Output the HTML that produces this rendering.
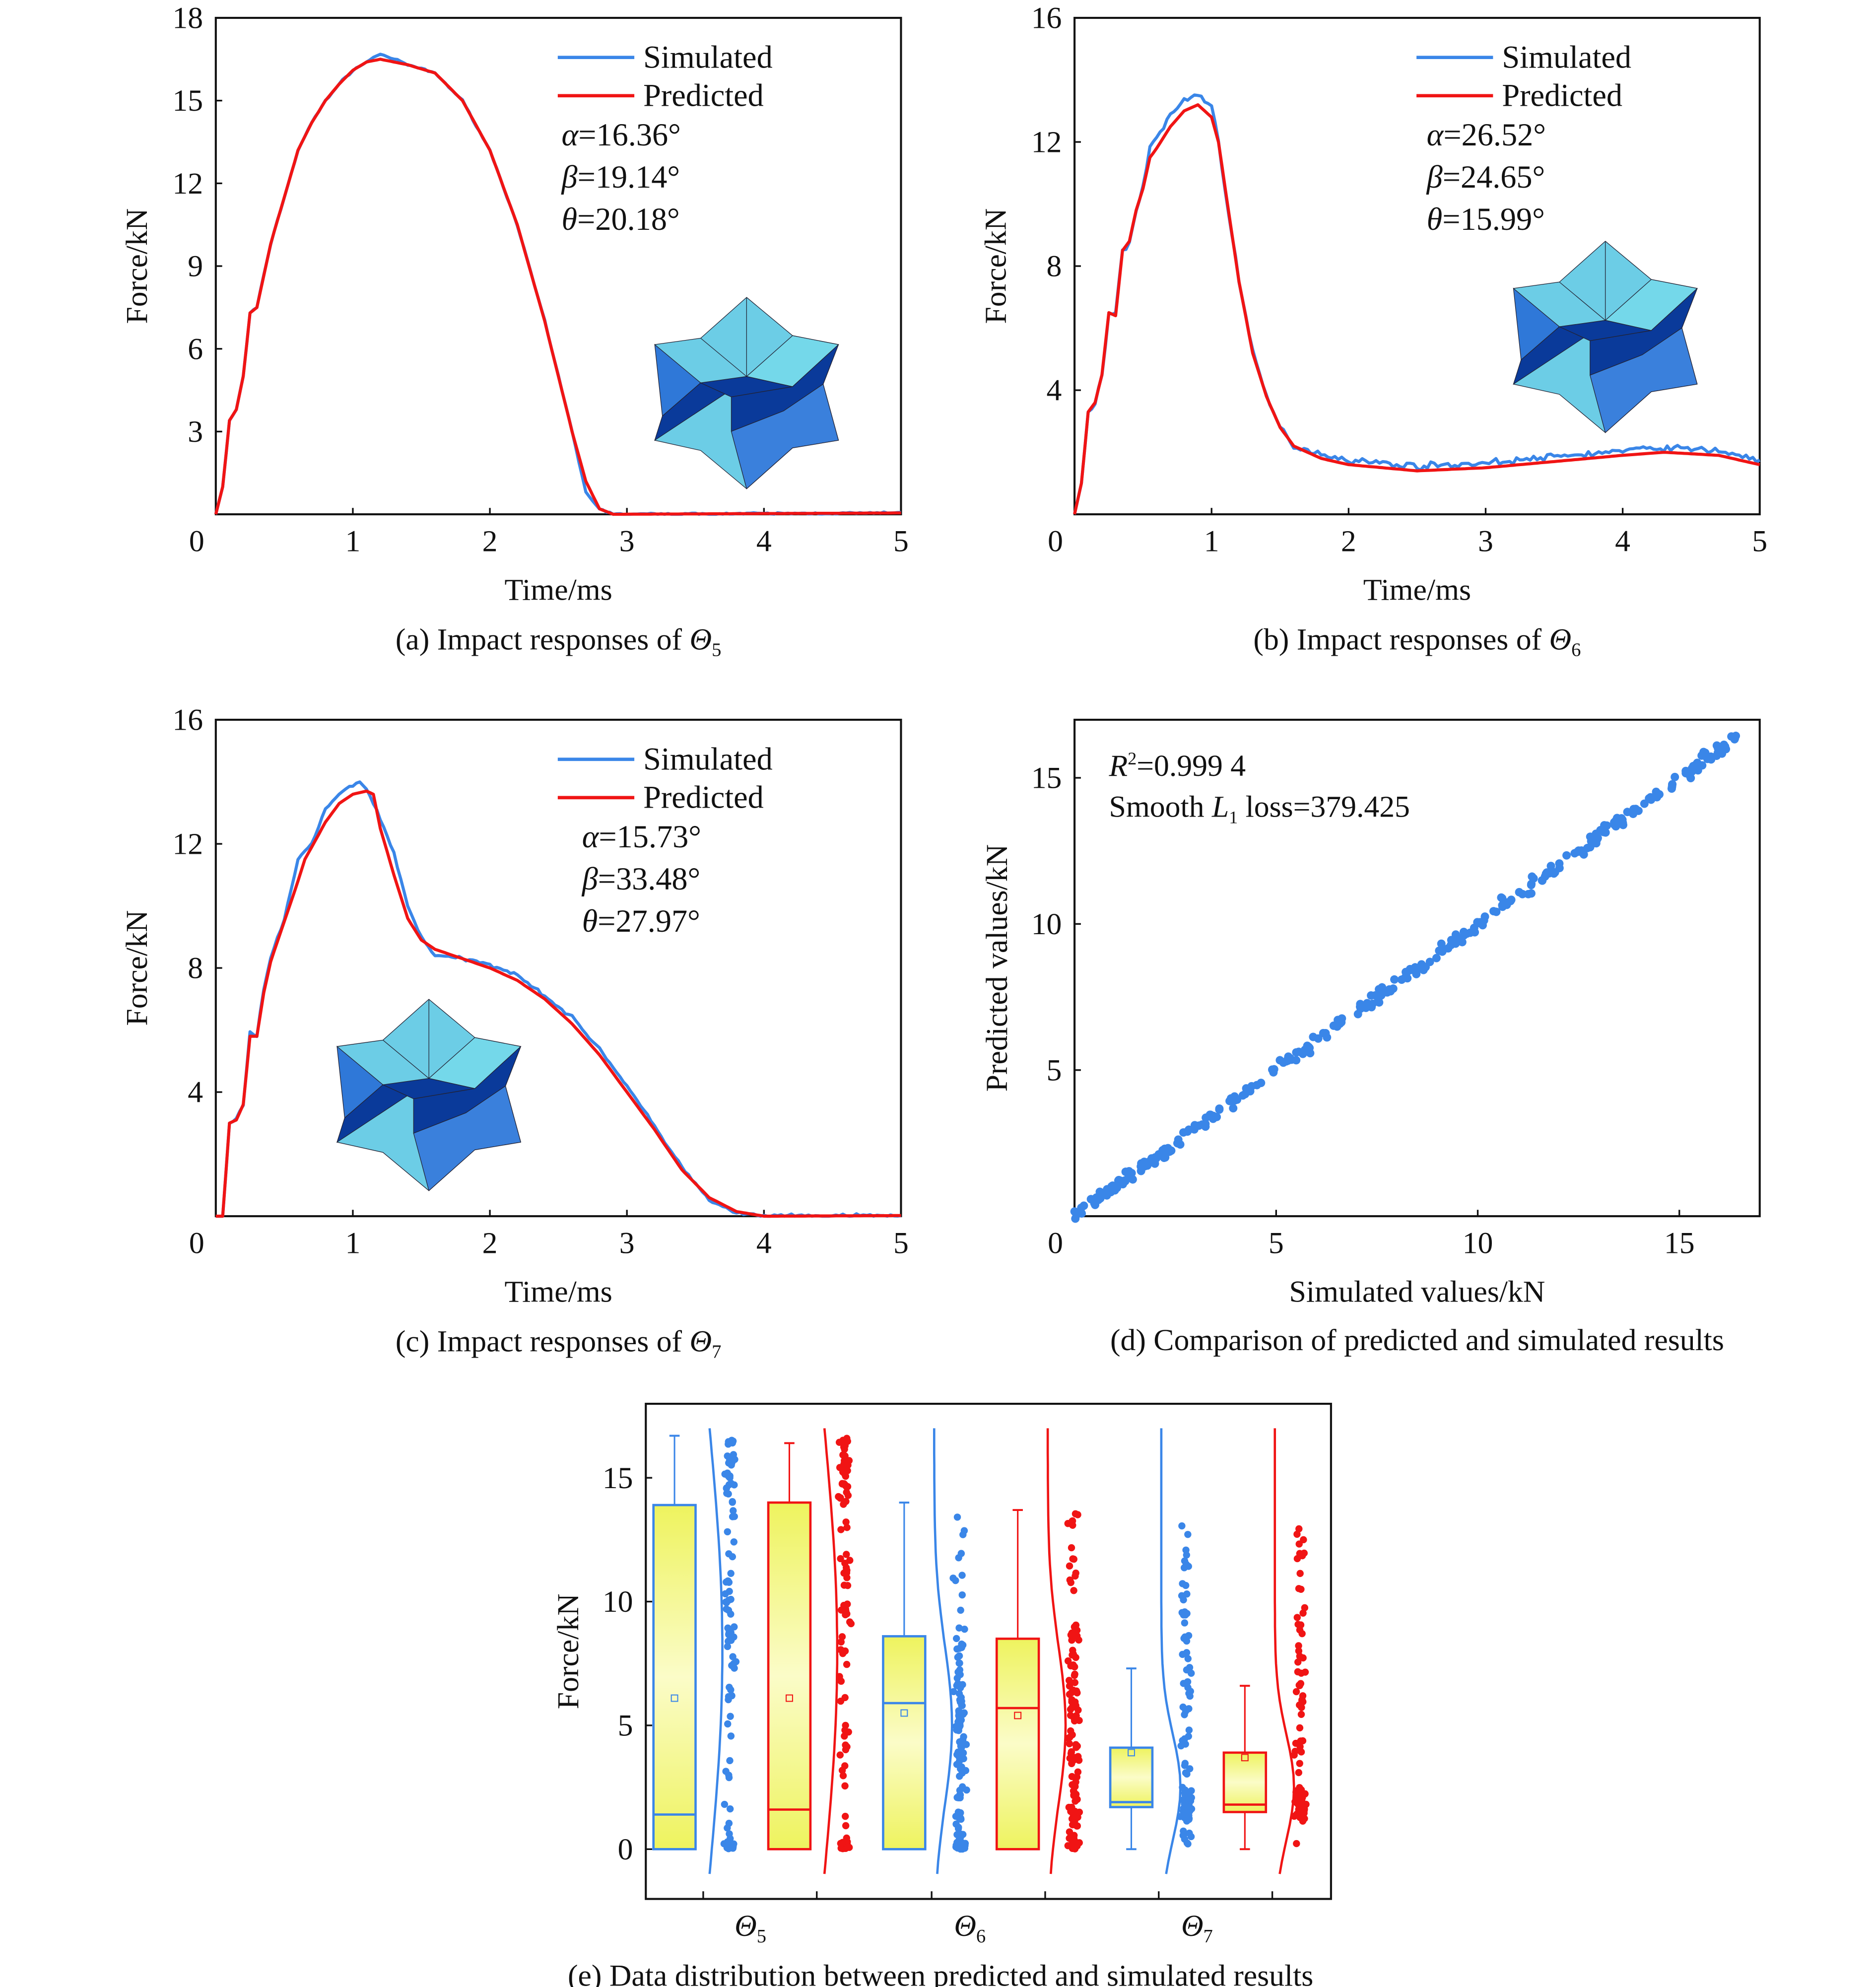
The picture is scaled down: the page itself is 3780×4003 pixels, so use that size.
<!DOCTYPE html>
<html><head><meta charset="utf-8"><style>
html,body{margin:0;padding:0;background:#fff}
svg{display:block}
text{font-family:"Liberation Serif",serif;fill:#111}
</style></head><body>
<svg id="s" width="3780" height="4003" viewBox="0 0 1470 1557" xmlns="http://www.w3.org/2000/svg">
<defs>
<linearGradient id="yg" x1="0" y1="0" x2="0" y2="1">
<stop offset="0" stop-color="#eef35e"/><stop offset="0.5" stop-color="#fbfcc8"/><stop offset="1" stop-color="#eef35e"/>
</linearGradient>
<g id="star" stroke="#223" stroke-width="0.5">
<polygon points="0,-75 36,-45 72,-38 60,-7 72,37 36,43 0,75 -36,45 -72,37 -59,6 -72,-38 -36,-43" fill="#6ccde6"/>
<polygon points="36,-45 72,-38 36,-5 0,-13" fill="#74d8ea"/>
<polygon points="-72,-38 -36,-8 -66,18" fill="#2f78d8"/>
<polygon points="-66,18 -36,-8 -10,-4 -72,37" fill="#0a3a9a"/>
<polygon points="-36,-8 0,-13 36,-5 -12,3" fill="#0a3a9a"/>
<polygon points="-12,3 36,-5 72,-38 60,-7 29,14 -12,30" fill="#0a3a9a"/>
<polygon points="-12,30 29,14 60,-7 72,37 36,43 0,75" fill="#3a80dc"/>
<line x1="0" y1="-75" x2="0" y2="-13"/>
<line x1="-36" y1="-43" x2="0" y2="-13"/>
</g>
</defs>
<g id="root" font-size="24"></g>
</svg>
<script>
var NS="http://www.w3.org/2000/svg",root=document.getElementById('root');
function el(t,a,p){var e=document.createElementNS(NS,t);for(var k in a)e.setAttribute(k,a[k]);(p||root).appendChild(e);return e;}
function tx(x,y,s,a){a=a||{};a.x=x;a.y=y;var e=el('text',a);e.innerHTML=s;return e;}
var seed=7;function rnd(){seed=(seed*16807)%2147483647;return seed/2147483647;}
function gauss(){return (rnd()+rnd()+rnd()-1.5)/1.5;}
function interp(d,t){for(var i=1;i<d.length;i++){if(t<=d[i][0]){var a=d[i-1],b=d[i];return a[1]+(b[1]-a[1])*(t-a[0])/(b[0]-a[0]);}}return d[d.length-1][1];}
function axes(x0,y0,x1,y1){el('rect',{x:x0,y:y0,width:x1-x0,height:y1-y0,fill:'none',stroke:'#111','stroke-width':1.6});}
function panel(x0,y0,x1,y1,ymax,yt,sim,pred,noise,cap,lbl,sx,sy){
 axes(x0,y0,x1,y1);
 var kx=(x1-x0)/5,ky=(y1-y0)/ymax;
 for(var i=1;i<5;i++){var X=x0+i*kx;el('line',{x1:X,y1:y1,x2:X,y2:y1-5,stroke:'#111','stroke-width':1.3});}
 for(var i=1;i<=5;i++)tx(x0+i*kx,y1+29,i,{'text-anchor':'middle'});
 yt.forEach(function(v){var Y=y1-v*ky;if(v>0&&v<ymax)el('line',{x1:x0,y1:Y,x2:x0+5,y2:Y,stroke:'#111','stroke-width':1.3});tx(x0-10,Y+8,v,{'text-anchor':'end'});});
 tx(x0-15,y1+29,0,{'text-anchor':'middle'});
 el('use',{href:'#star',transform:'translate('+sx+','+sy+')'});
 function path(d,nz,col){var s='';for(var t=0;t<=5.0001;t+=0.025){var v=interp(d,t);if(nz&&t>0.1)v+=gauss()*nz;if(v<0)v=0;s+=(s?'L':'M')+(x0+t*kx).toFixed(1)+','+(y1-v*ky).toFixed(1);}el('path',{d:s,fill:'none',stroke:col,'stroke-width':2.4,'stroke-linejoin':'round'});}
 path(sim,noise,'#3a86e8');path(pred,0,'#f01414');
 el('line',{x1:x0+268,y1:y0+31,x2:x0+328,y2:y0+31,stroke:'#3a86e8','stroke-width':2.6});
 el('line',{x1:x0+268,y1:y0+61,x2:x0+328,y2:y0+61,stroke:'#f01414','stroke-width':2.6});
 tx(x0+335,y0+39,'Simulated',{'font-size':25});tx(x0+335,y0+69,'Predicted',{'font-size':25});
 tx(x0+lbl[3],y0+100,'<tspan font-style="italic">α</tspan>='+lbl[0]+'°',{'font-size':25});
 tx(x0+lbl[3],y0+133,'<tspan font-style="italic">β</tspan>='+lbl[1]+'°',{'font-size':25});
 tx(x0+lbl[3],y0+166,'<tspan font-style="italic">θ</tspan>='+lbl[2]+'°',{'font-size':25});
 tx((x0+x1)/2,y1+67,'Time/ms',{'text-anchor':'middle'});
 tx(0,0,'Force/kN',{'text-anchor':'middle',transform:'translate('+(x0-54)+','+((y0+y1)/2)+') rotate(-90)'});
 tx((x0+x1)/2,y1+106,cap,{'text-anchor':'middle'});
}
var A=[[0,0],[0.05,1],[0.1,3.4],[0.15,3.8],[0.2,5],[0.25,7.3],[0.3,7.5],[0.4,9.8],[0.5,11.5],[0.6,13.2],[0.7,14.2],[0.8,15],[0.9,15.6],[1,16.1],[1.1,16.4],[1.2,16.5],[1.4,16.3],[1.6,16],[1.8,15],[2,13.2],[2.2,10.5],[2.4,7],[2.5,5],[2.6,3],[2.7,1.2],[2.8,0.2],[2.9,0],[5,0.05]];
var As=A.map(function(p){return p[0]==1.2?[1.2,16.7]:(p[0]==2.7?[2.7,0.8]:p)});
panel(169,14,706,403,18,[3,6,9,12,15,18],As,A,0.05,'(a) Impact responses of <tspan font-style="italic">Θ</tspan><tspan font-size="15" dy="5">5</tspan>',['16.36','19.14','20.18',271],585,308);
var B=[[0,0],[0.05,1],[0.1,3.3],[0.15,3.6],[0.2,4.5],[0.25,6.5],[0.3,6.4],[0.35,8.5],[0.4,8.8],[0.45,9.8],[0.5,10.5],[0.55,11.5],[0.6,11.8],[0.7,12.5],[0.8,13],[0.9,13.2],[1,12.8],[1.05,12],[1.1,10.5],[1.2,7.5],[1.3,5.2],[1.4,3.8],[1.5,2.8],[1.6,2.2],[1.8,1.8],[2,1.6],[2.5,1.4],[3,1.5],[3.5,1.7],[4,1.9],[4.3,2],[4.7,1.9],[5,1.6]];
var Bs=B.map(function(p){return p[0]>0.5&&p[0]<1.05?[p[0],p[1]+0.35]:(p[0]>1.6?[p[0],p[1]+0.15]:p)});
panel(842,14,1379,403,16,[4,8,12,16],Bs,B,0.15,'(b) Impact responses of <tspan font-style="italic">Θ</tspan><tspan font-size="15" dy="5">6</tspan>',['26.52','24.65','15.99',276],1258,264);
var C=[[0,0],[0.05,0],[0.1,3],[0.15,3.1],[0.2,3.6],[0.25,5.8],[0.3,5.8],[0.35,7.2],[0.4,8.2],[0.5,9.5],[0.6,10.8],[0.65,11.5],[0.7,11.9],[0.8,12.7],[0.9,13.3],[1,13.6],[1.1,13.7],[1.15,13.6],[1.2,12.5],[1.3,11],[1.4,9.6],[1.5,8.9],[1.6,8.6],[1.8,8.3],[2,8],[2.2,7.6],[2.4,7],[2.6,6.2],[2.8,5.2],[3,4],[3.2,2.8],[3.4,1.5],[3.6,0.6],[3.8,0.15],[4,0],[5,0.02]];
var Cs=[[0,0],[0.05,0],[0.1,3],[0.15,3.1],[0.2,3.6],[0.25,5.9],[0.3,5.8],[0.35,7.3],[0.4,8.3],[0.5,9.6],[0.6,11.5],[0.7,12],[0.8,13.1],[0.9,13.6],[1,13.9],[1.05,14],[1.1,13.8],[1.2,12.8],[1.3,11.7],[1.4,10],[1.5,9],[1.6,8.4],[1.8,8.3],[2,8.1],[2.2,7.8],[2.4,7.1],[2.6,6.4],[2.8,5.4],[3,4.2],[3.2,2.9],[3.4,1.6],[3.6,0.5],[3.8,0.1],[4,0],[5,0.02]];
panel(169,564,706,953,16,[4,8,12,16],Cs,C,0.08,'(c) Impact responses of <tspan font-style="italic">Θ</tspan><tspan font-size="15" dy="5">7</tspan>',['15.73','33.48','27.97',287],336,858);
(function(){var x0=842,y0=564,x1=1379,y1=953,kx=31.6,ky=22.9;axes(x0,y0,x1,y1);
[5,10,15].forEach(function(v){var X=x0+v*kx,Y=y1-v*ky;el('line',{x1:X,y1:y1,x2:X,y2:y1-5,stroke:'#111','stroke-width':1.3});el('line',{x1:x0,y1:Y,x2:x0+5,y2:Y,stroke:'#111','stroke-width':1.3});tx(X,y1+29,v,{'text-anchor':'middle'});tx(x0-10,Y+8,v,{'text-anchor':'end'});});
tx(x0-15,y1+29,0,{'text-anchor':'middle'});
for(var i=0;i<330;i++){var v=Math.pow(rnd(),0.9)*16.5;if(i<40)v=rnd()*2.5;var p=v+gauss()*0.35;el('circle',{cx:x0+v*kx,cy:y1-p*ky,r:3.3,fill:'#3a86e8'});}
tx(869,608,'<tspan font-style="italic">R</tspan><tspan font-size="14" dy="-9">2</tspan><tspan dy="9">=0.999 4</tspan>');
tx(869,640,'Smooth <tspan font-style="italic">L</tspan><tspan font-size="14" dy="5">1</tspan><tspan dy="-5"> loss=379.425</tspan>');
tx((x0+x1)/2,y1+67,'Simulated values/kN',{'text-anchor':'middle'});
tx(0,0,'Predicted values/kN',{'text-anchor':'middle',transform:'translate(789,'+((y0+y1)/2)+') rotate(-90)'});
tx((x0+x1)/2,y1+105,'(d) Comparison of predicted and simulated results',{'text-anchor':'middle'});})();
(function(){var x0=506,y0=1100,x1=1043,y1=1488,ky=19.4,yz=1449;axes(x0,y0,x1,y1);
[0,5,10,15].forEach(function(v){var Y=yz-v*ky;el('line',{x1:x0,y1:Y,x2:x0+5,y2:Y,stroke:'#111','stroke-width':1.3});tx(x0-10,Y+8,v,{'text-anchor':'end'});});
[551,640,730,819,908,997].forEach(function(X){el('line',{x1:X,y1:y1,x2:X,y2:y1-6,stroke:'#111','stroke-width':1.3});});
var B=[[512,'#3a86e8',0,13.9,1.4,0,16.7,6.1],[602,'#f01414',0,14,1.6,0,16.4,6.1],[692,'#3a86e8',0,8.6,5.9,0,14,5.5],[781,'#f01414',0,8.5,5.7,0,13.7,5.4],[870,'#3a86e8',1.7,4.1,1.9,0,7.3,3.9],[959,'#f01414',1.5,3.9,1.8,0,6.6,3.7]];
B.forEach(function(b,k){var X=b[0],w=33,c=b[1],m=X+w/2;
el('line',{x1:m,y1:yz-b[6]*ky,x2:m,y2:yz-b[5]*ky,stroke:c,'stroke-width':1.2});
el('line',{x1:m-4,y1:yz-b[6]*ky,x2:m+4,y2:yz-b[6]*ky,stroke:c,'stroke-width':1.5});
if(b[5]!=b[2])el('line',{x1:m-4,y1:yz-b[5]*ky,x2:m+4,y2:yz-b[5]*ky,stroke:c,'stroke-width':1.5});
el('rect',{x:X,y:yz-b[3]*ky,width:w,height:(b[3]-b[2])*ky,fill:'url(#yg)',stroke:c,'stroke-width':1.8});
el('line',{x1:X,y1:yz-b[4]*ky,x2:X+w,y2:yz-b[4]*ky,stroke:c,'stroke-width':1.8});
el('rect',{x:m-2.5,y:yz-b[7]*ky-2.5,width:5,height:5,fill:'none',stroke:c,'stroke-width':0.8});
var sx=X+60,n=k<2?110:(k<4?130:120);
for(var i=0;i<n;i++){var v;var r=rnd();
 if(k<2){v=r<0.18?rnd()*0.3:(r<0.45?14+rnd()*2.6:rnd()*16.5);}
 else if(k<4){v=r<0.15?rnd()*0.3:(r<0.65?rnd()*9:(rnd()*13.8));}
 else{v=r<0.5?1.2+rnd()*1.2:(r<0.75?rnd()*7:7+rnd()*6.3);}
 el('circle',{cx:sx+gauss()*6,cy:yz-v*ky,r:2.8,fill:c});}
var s='';for(var v=-1;v<=17;v+=0.5){var dx;
 if(k<2)dx=-8+Math.sin((v+1)/18*Math.PI)*10;else if(k<4)dx=-12+14*Math.exp(-Math.pow((v-5)/4.5,2));else dx=-12+15*Math.exp(-Math.pow((v-2.5)/3,2));
 s+=(s?'L':'M')+(sx-8+dx).toFixed(1)+','+(yz-v*ky).toFixed(1);}
el('path',{d:s,fill:'none',stroke:c,'stroke-width':1.8});});
[[588,'5'],[760,'6'],[938,'7']].forEach(function(t){tx(t[0],1517,'<tspan font-style="italic">Θ</tspan><tspan font-size="15" dy="5">'+t[1]+'</tspan>',{'text-anchor':'middle'});});
tx(0,0,'Force/kN',{'text-anchor':'middle',transform:'translate(453,1294) rotate(-90)'});
tx(737,1556,'(e) Data distribution between predicted and simulated results',{'text-anchor':'middle'});})();
</script>
</body></html>
